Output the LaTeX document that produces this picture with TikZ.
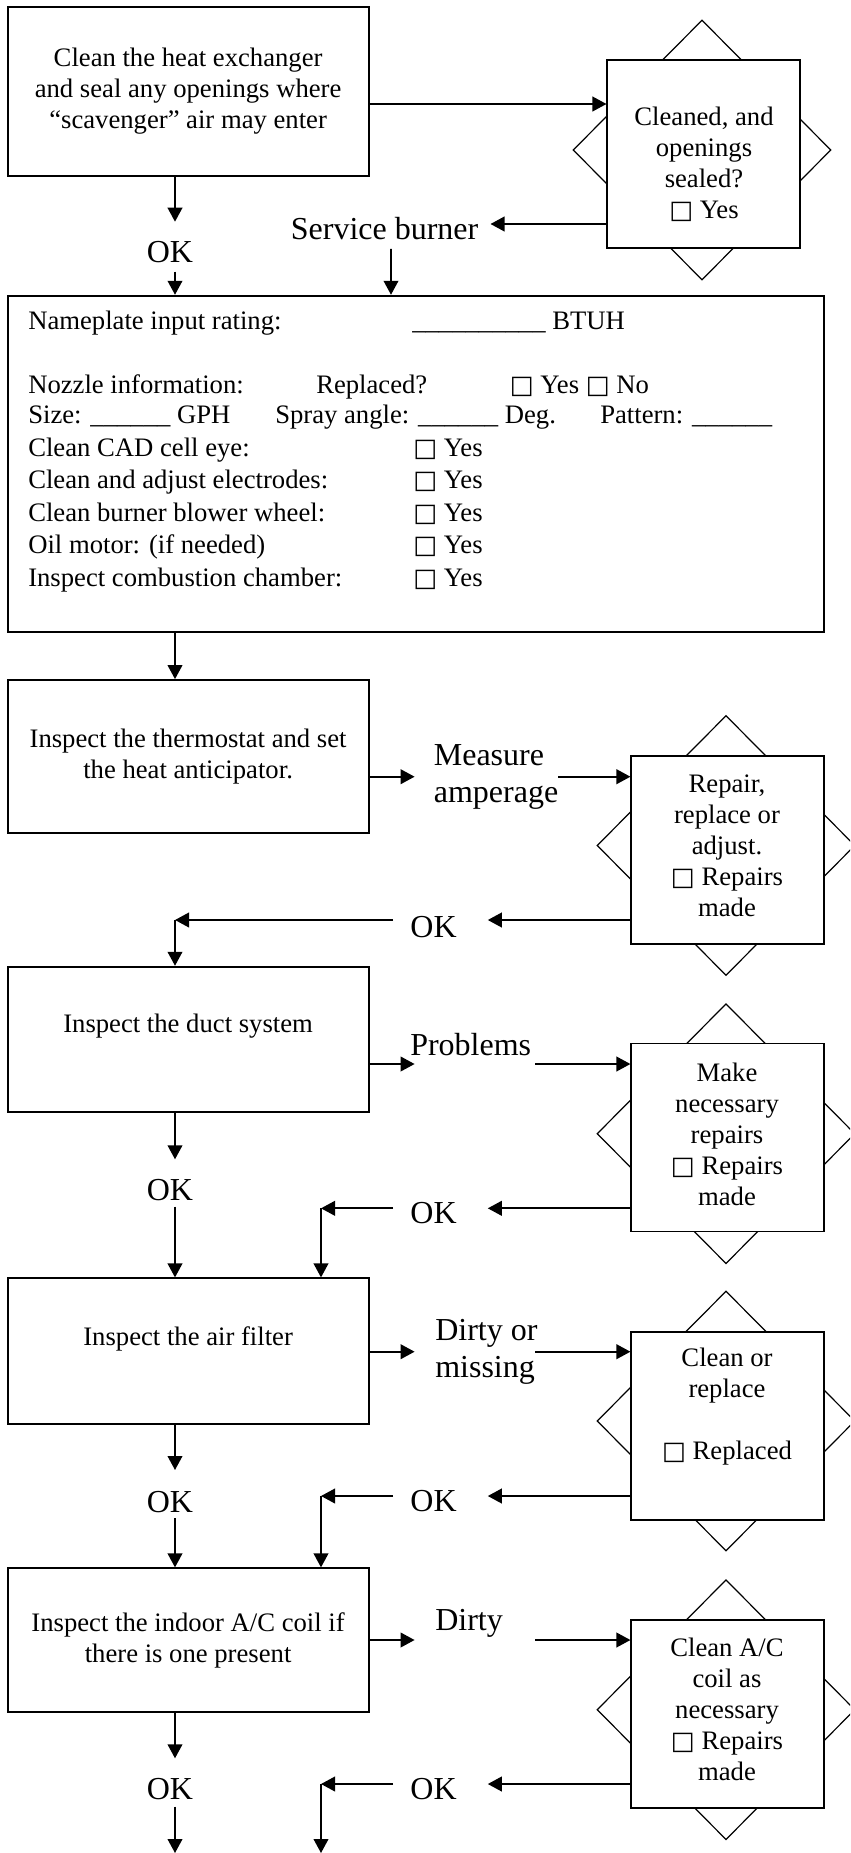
\documentclass[tikz,border=0pt]{standalone}
\usepackage{fontspec}
\setmainfont{Liberation Serif}
\newfontfamily\symf{DejaVu Sans}
\usetikzlibrary{arrows.meta,shapes.geometric,calc}
\newcommand\cb{{\symf\fontsize{19}{19}\selectfont □}}
\tikzset{
  btext/.style={font=\fontsize{20}{23.25}\selectfont, align=center},
  lab/.style={font=\fontsize{24}{27.75}\selectfont, inner sep=0pt},
  lbox/.style={btext, draw, line width=1.4pt, minimum width=270.75pt, inner sep=0pt},
  dbox/.style={draw, line width=1.4pt, fill=white, minimum width=144.5pt, minimum height=141pt, inner sep=0pt},
  dia/.style={draw, diamond, line width=0.9pt, minimum width=193.5pt, minimum height=195pt, inner sep=0pt},
  qtext/.style={btext, inner sep=0pt},
  nptext/.style={font=\fontsize{20}{23.25}\selectfont, anchor=west, inner sep=0pt, text height=14pt, text depth=4pt},
  arr/.style={line width=1.35pt, -{Triangle[length=10.5pt,width=11pt]}},
}
\begin{document}
\begin{tikzpicture}[x=0.75pt,y=-0.75pt]
\useasboundingbox (0,0) rectangle (850,1853);
\clip (0,0) rectangle (850,1853);

% left column boxes
\node[lbox, minimum height=126.3pt] (b1) at (188.1,91.5) {Clean the heat exchanger\\and seal any openings where\\“scavenger” air may enter};
\node[draw, line width=1.4pt, minimum width=612.3pt, minimum height=252pt, inner sep=0pt] (np) at (415.8,463.7) {};
\node[lbox, minimum height=115pt] (b2) at (188.1,756.7) {Inspect the thermostat and set\\the heat anticipator.};
\node[lbox, minimum height=108.75pt] (b3) at (188.1,1039.2) {Inspect the duct system\\\mbox{}};
\node[lbox, minimum height=109.3pt] (b4) at (188.1,1351.2) {Inspect the air filter\\\mbox{}};
\node[lbox, minimum height=108pt] (b5) at (188.1,1640.3) {Inspect the indoor A/C coil if\\there is one present};

% nameplate contents
\node[nptext] (n1a) at (28,323.3) {Nameplate input rating:};
\node[nptext] (n1b) at (412,323.3) {\_\_\_\_\_\_\_\_\_\_ BTUH};
\node[nptext] (n2a) at (28,386.7) {Nozzle information:};
\node[nptext] (n2b) at (316,386.7) {Replaced?};
\node[nptext] (n2c) at (509.5,386.7) {\cb{} Yes \cb{} No};
\node[nptext] (n3a) at (28,416.7) {Size: \_\_\_\_\_\_ GPH};
\node[nptext] (n3b) at (275,416.7) {Spray angle: \_\_\_\_\_\_ Deg.};
\node[nptext] (n3c) at (600,416.7) {Pattern: \_\_\_\_\_\_};
\node[nptext] (n4a) at (28,450) {Clean CAD cell eye:};
\node[nptext] (n4b) at (413,450) {\cb{} Yes};
\node[nptext] (n5a) at (28,481.7) {Clean and adjust electrodes:};
\node[nptext] (n5b) at (413,481.7) {\cb{} Yes};
\node[nptext] (n6a) at (28,515) {Clean burner blower wheel:};
\node[nptext] (n6b) at (413,515) {\cb{} Yes};
\node[nptext] (n7a) at (28,546.7) {Oil motor: (if needed)};
\node[nptext] (n7b) at (413,546.7) {\cb{} Yes};
\node[nptext] (n8a) at (28,580) {Inspect combustion chamber:};
\node[nptext] (n8b) at (413,580) {\cb{} Yes};

% decision shapes
\node[dia] (d1) at (702,150) {};
\node[dbox] (r1) at (703.75,153.85) {};
\node[qtext] (q1) at (704,164.5) {Cleaned, and\\openings\\sealed?\\\cb{} Yes};
\node[dia] (d2) at (726,845.5) {};
\node[dbox] (r2) at (727.7,850) {};
\node[qtext] (q2) at (727,846) {Repair,\\replace or\\adjust.\\\cb{} Repairs\\made};
\node[dia] (d3) at (726,1133.7) {};
\node[dbox] (r3) at (727.7,1137.5) {};
\node[qtext] (q3) at (727,1134.2) {Make\\necessary\\repairs\\\cb{} Repairs\\made};
\node[dia] (d4) at (726,1421) {};
\node[dbox] (r4) at (727.7,1425.85) {};
\node[qtext] (q4) at (727,1406.3) {Clean or\\replace\\\mbox{}\\\cb{} Replaced};
\node[dia] (d5) at (726,1709.7) {};
\node[dbox] (r5) at (727.7,1714.15) {};
\node[qtext] (q5) at (727,1709.5) {Clean A/C\\coil as\\necessary\\\cb{} Repairs\\made};

% labels
\node[lab] (sb) at (384.6,228.3) {Service burner};
\node[lab] (ok1) at (170,252) {OK};
\node[lab, anchor=west, align=left] (meas) at (433.6,776.7) {Measure\\amperage};
\node[lab] (ok2) at (433.6,926.7) {OK};
\node[lab] (prob) at (470.7,1045) {Problems};
\node[lab] (ok3) at (170,1190) {OK};
\node[lab] (ok4) at (433.6,1213.3) {OK};
\node[lab, anchor=west, align=left] (dirt) at (435,1351.7) {Dirty or\\missing};
\node[lab] (ok5) at (170,1501.7) {OK};
\node[lab] (ok6) at (433.6,1501) {OK};
\node[lab, anchor=west] (dirty) at (435,1623.3) {Dirty};
\node[lab] (ok7) at (170,1789.3) {OK};
\node[lab] (ok8) at (433.6,1789.3) {OK};

% helper coordinates
\coordinate (ya) at (0,104);
\coordinate (yb) at (0,224);
\coordinate (yc) at (0,776.7);
\coordinate (yd) at (0,920);
\coordinate (ye) at (0,1064);
\coordinate (yf) at (0,1208.3);
\coordinate (yg) at (0,1351.7);
\coordinate (yh) at (0,1496);
\coordinate (yi) at (0,1640);
\coordinate (yj) at (0,1784);
\coordinate (xl) at (175,0);
\coordinate (xm) at (321,0);
\coordinate (xs) at (391,0);
\coordinate (xo) at (393,0);
\coordinate (xa) at (414.6,0);
\coordinate (xb) at (535,0);
\coordinate (xk) at (487.8,0);
\coordinate (xt) at (490.5,0);
\coordinate (xe) at (558,0);
\coordinate (end1) at (175,1853);
\coordinate (end2) at (321,1853);

% connectors
\draw[arr] (b1.east |- ya) -- (r1.west |- ya);
\draw[arr] (r1.west |- yb) -- (xt |- yb);
\draw[arr] (b1.south -| xl) -- ($(ok1)+(5,-30.3)$);
\draw[arr] ($(ok1)+(5,19.7)$) -- (np.north -| xl);
\draw[arr] ($(sb.south)+(6.4,9)$) -- (np.north -| xs);
\draw[arr] (np.south -| xl) -- (b2.north -| xl);

\draw[arr] (b2.east |- yc) -- (xa |- yc);
\draw[arr] (xe |- yc) -- (r2.west |- yc);
\draw[arr] (r2.west |- yd) -- (xk |- yd);
\draw[arr] (xo |- yd) -- (xl |- yd);
\draw[arr] (xl |- yd) -- (b3.north -| xl);

\draw[arr] (b3.east |- ye) -- (xa |- ye);
\draw[arr] (xb |- ye) -- (r3.west |- ye);
\draw[arr] (b3.south -| xl) -- ($(ok3)+(5,-30.7)$);
\draw[arr] ($(ok3)+(5,16.7)$) -- (b4.north -| xl);
\draw[arr] (r3.west |- yf) -- (xk |- yf);
\draw[arr] (xo |- yf) -- (xm |- yf);
\draw[arr] (xm |- yf) -- (b4.north -| xm);

\draw[arr] (b4.east |- yg) -- (xa |- yg);
\draw[arr] (xb |- yg) -- (r4.west |- yg);
\draw[arr] (b4.south -| xl) -- ($(ok5)+(5,-31.7)$);
\draw[arr] ($(ok5)+(5,16.6)$) -- (b5.north -| xl);
\draw[arr] (r4.west |- yh) -- (xk |- yh);
\draw[arr] (xo |- yh) -- (xm |- yh);
\draw[arr] (xm |- yh) -- (b5.north -| xm);

\draw[arr] (b5.east |- yi) -- (xa |- yi);
\draw[arr] (xb |- yi) -- (r5.west |- yi);
\draw[arr] (b5.south -| xl) -- ($(ok7)+(5,-31)$);
\draw[arr] ($(ok7)+(5,17.4)$) -- (end1);
\draw[arr] (r5.west |- yj) -- (xk |- yj);
\draw[arr] (xo |- yj) -- (xm |- yj);
\draw[arr] (xm |- yj) -- (end2);
\end{tikzpicture}
\end{document}
